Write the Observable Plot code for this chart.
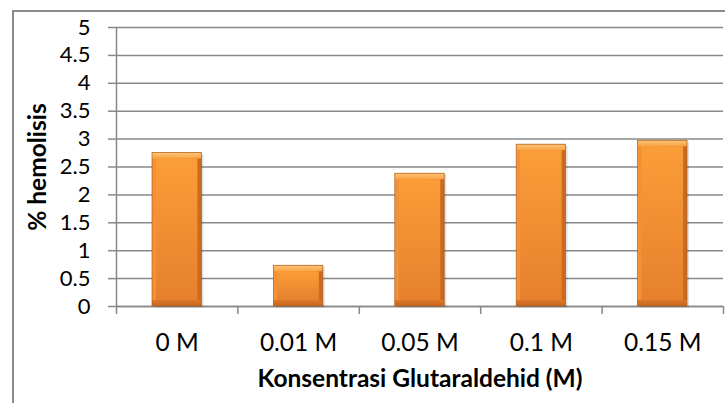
<!DOCTYPE html>
<html>
<head>
<meta charset="utf-8">
<script src="https://cdn.jsdelivr.net/npm/d3@7"></script>
<script src="https://cdn.jsdelivr.net/npm/@observablehq/plot@0.6"></script>
<style>
  html, body { margin: 0; padding: 0; background: #fff; }
  #wrap { position: relative; width: 725px; height: 403px; overflow: hidden; }
  #frame { position: absolute; left: 12px; top: 10px; width: 800px; height: 500px;
           border-left: 2px solid #8c8c8c; border-top: 2px solid #8c8c8c; }
  #chart { position: absolute; left: 0; top: 0; }
</style>
</head>
<body>
<div id="wrap"><div id="frame"></div><div id="chart"></div></div>
<script>
const categories = ["0 M", "0.01 M", "0.05 M", "0.1 M", "0.15 M"];
const values = [2.75, 0.73, 2.38, 2.90, 2.97];
const yTicks = [0, 0.5, 1, 1.5, 2, 2.5, 3, 3.5, 4, 4.5, 5];
const xTitle = "Konsentrasi Glutaraldehid (M)";
const yTitle = "% hemolisis";

const data = categories.map((c, i) => ({c, i, v: values[i]}));
const boundaries = d3.range(categories.length + 1);
const centers = categories.map((c, i) => i + 0.5);

const font = "Lato, 'Open Sans', sans-serif";
const grey = "#888888";
const inset = 36;

const plot = Plot.plot({
  width: 725,
  height: 403,
  marginLeft: 116,
  marginRight: 2,
  marginTop: 27,
  marginBottom: 97,
  style: {fontFamily: font, fontSize: "22px", color: "#000", background: "transparent", overflow: "visible"},
  x: {type: "linear", domain: [0, categories.length]},
  y: {domain: [0, 5]},
  marks: [
    Plot.gridY(yTicks, {stroke: grey, strokeOpacity: 1, strokeWidth: 1.5}),
    Plot.ruleX([0], {stroke: grey, strokeWidth: 1.5}),
    Plot.ruleY([0], {stroke: grey, strokeWidth: 1.5}),
    // shadow
    Plot.rectY(data, {x1: "i", x2: d => d.i + 1, y: "v", insetLeft: inset, insetRight: inset, fill: "#000", fillOpacity: 0.12, dx: 2, dy: 1.5}),
    // base (side bevels)
    Plot.rectY(data, {x1: "i", x2: d => d.i + 1, y: "v", insetLeft: inset, insetRight: inset, fill: "url(#gSide)"}),
    // bottom bevel
    Plot.rectY(data, {x1: "i", x2: d => d.i + 1, y1: 0, y2: 0, insetLeft: inset, insetRight: inset, insetTop: -6, fill: "url(#gBot)"}),
    // top bevel
    Plot.rectY(data, {x1: "i", x2: d => d.i + 1, y1: "v", y2: "v", insetLeft: inset, insetRight: inset, insetBottom: -6, fill: "url(#gTop)"}),
    // face
    Plot.rectY(data, {x1: "i", x2: d => d.i + 1, y: "v", insetLeft: inset + 4, insetRight: inset + 4, insetTop: 6, insetBottom: 6, fill: "url(#gFace)"}),
    // outline
    Plot.rectY(data, {x1: "i", x2: d => d.i + 1, y: "v", insetLeft: inset, insetRight: inset, fill: "none", stroke: "#b0601e", strokeWidth: 0.7}),
    Plot.axisY(yTicks, {tickSize: 8, tickPadding: 18, stroke: grey, strokeWidth: 1.5, tickFormat: d => String(d), label: null, fontSize: 22}),
    Plot.axisX(boundaries, {tickSize: 8, stroke: grey, strokeWidth: 1.5, tickFormat: () => "", label: null}),
    Plot.axisX(centers, {tickSize: 0, tickPadding: 27, tickFormat: d => categories[Math.floor(d)], label: null, fontSize: 24.5}),
    Plot.text([xTitle], {frameAnchor: "bottom", dy: 80, textAnchor: "middle", fontWeight: "bold", fontSize: 24.5, fill: "#000"}),
    Plot.text([yTitle], {frameAnchor: "left", dx: -78, rotate: -90, textAnchor: "middle", fontWeight: "bold", fontSize: 24.5, fill: "#000"})
  ]
});

const svg = d3.select(plot);
const defs = svg.insert("defs", ":first-child");
function grad(id, x2, y2, stops) {
  const g = defs.append("linearGradient").attr("id", id)
    .attr("x1", 0).attr("y1", 0).attr("x2", x2).attr("y2", y2);
  stops.forEach(([o, c]) => g.append("stop").attr("offset", o).attr("stop-color", c));
}
grad("gSide", 1, 0, [["0%", "#f39238"], ["50%", "#e9852f"], ["100%", "#c7681f"]]);
grad("gTop", 0, 1, [["0%", "#fdc47a"], ["100%", "#faa343"]]);
grad("gBot", 0, 1, [["0%", "#dc7829"], ["100%", "#c56620"]]);
grad("gFace", 0, 1, [["0%", "#fb9d38"], ["100%", "#e6802d"]]);

document.getElementById("chart").appendChild(plot);
</script>
</body>
</html>
